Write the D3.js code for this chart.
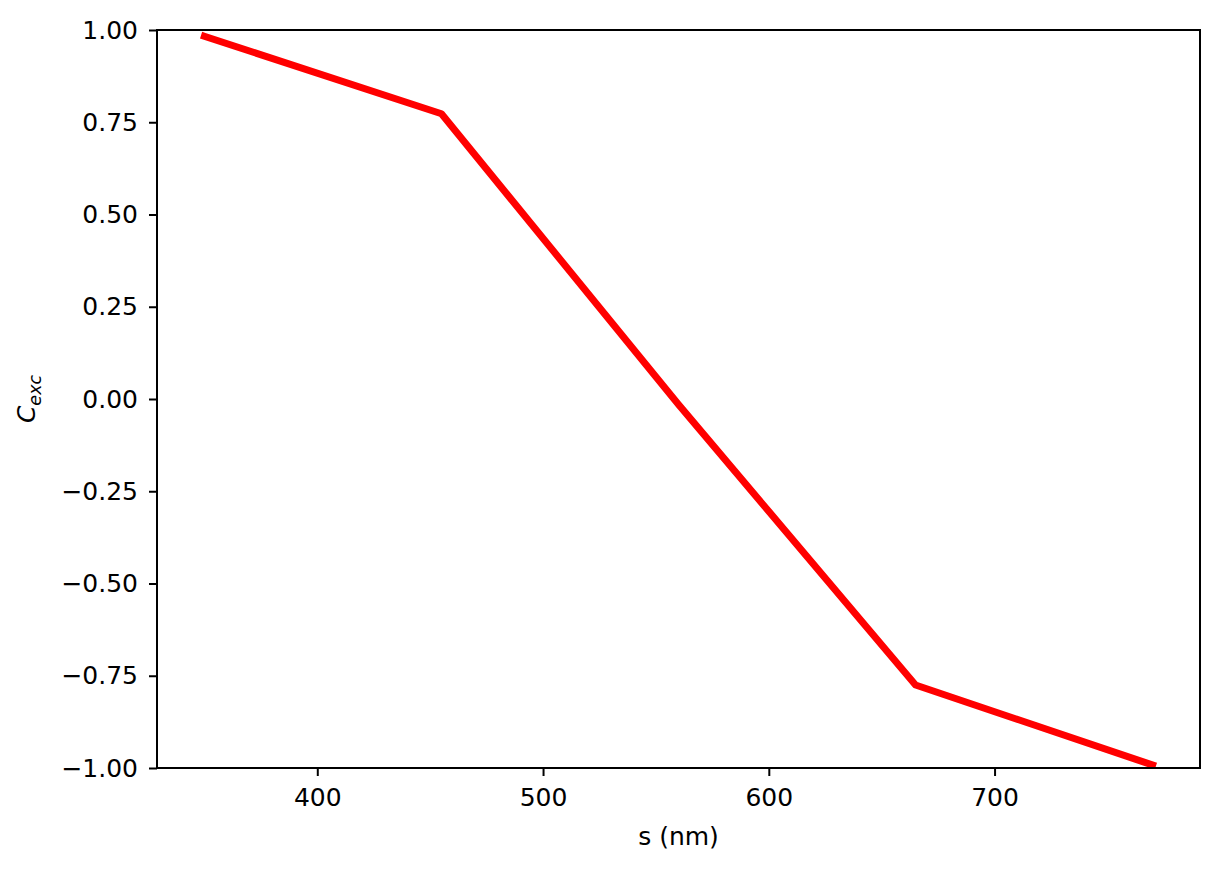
<!DOCTYPE html>
<html>
<head>
<meta charset="utf-8">
<script src="https://cdn.jsdelivr.net/npm/d3@7"></script>
<style>
  body { margin: 0; background: #fff; }
  text { font-family: "DejaVu Sans", sans-serif; }
</style>
</head>
<body>
<div id="chart"></div>
<script>
// wavelength (nm) and excitation coefficient
var wavelengths = [350, 455, 560, 665, 770];
var cexc = [0.983, 0.773, -0.015, -0.775, -0.992];
var xTicks = [400, 500, 600, 700];
var yTicks = [-1.00, -0.75, -0.50, -0.25, 0.00, 0.25, 0.50, 0.75, 1.00];

var W = 1219, H = 871;
var margin = {top: 30, right: 19, bottom: 103, left: 157},
    width = W - margin.left - margin.right,
    height = H - margin.top - margin.bottom;

var svg = d3.select("#chart")
  .append("svg")
    .attr("width", W)
    .attr("height", H)
  .append("g")
    .attr("transform", "translate(" + margin.left + "," + margin.top + ")");

// matplotlib style 5% margin on x
var pad = (770 - 350) * 0.05;
var x = d3.scaleLinear()
  .domain([350 - pad, 770 + pad])
  .range([0, width]);

var y = d3.scaleLinear()
  .domain([-1, 1])
  .range([height, 0]);

var line = d3.line()
  .x(function(d, i) { return x(wavelengths[i]); })
  .y(function(d) { return y(d); });

svg.append("defs").append("clipPath").attr("id", "clip")
  .append("rect").attr("width", width).attr("height", height);

svg.append("path")
  .datum(cexc)
  .attr("clip-path", "url(#clip)")
  .attr("fill", "none")
  .attr("stroke", "#ff0000")
  .attr("stroke-width", 7)
  .attr("stroke-linecap", "square")
  .attr("stroke-linejoin", "round")
  .attr("d", line);

var xAxis = svg.append("g")
  .attr("transform", "translate(0," + height + ")")
  .call(d3.axisBottom(x).tickValues(xTicks).tickSize(8).tickPadding(12));

var yAxis = svg.append("g")
  .call(d3.axisLeft(y).tickValues(yTicks).tickSize(8).tickPadding(11)
    .tickFormat(function(d) { return d3.format(".2f")(d).replace("-", "\u2212"); }));

[xAxis, yAxis].forEach(function(a) {
  a.select(".domain").remove();
  a.selectAll(".tick line").attr("stroke", "#000").attr("stroke-width", 2);
  a.selectAll(".tick text").attr("font-size", 25).attr("fill", "#000")
    .attr("font-family", "DejaVu Sans, sans-serif");
});

// frame
svg.append("rect")
  .attr("width", width)
  .attr("height", height)
  .attr("fill", "none")
  .attr("stroke", "#000")
  .attr("stroke-width", 2);

// axis labels
svg.append("text")
  .attr("x", width / 2)
  .attr("y", height + 77)
  .attr("text-anchor", "middle")
  .attr("font-size", 25)
  .text("s (nm)");

var yl = svg.append("text")
  .attr("transform", "translate(" + (-122) + "," + (height / 2) + ") rotate(-90)")
  .attr("text-anchor", "middle")
  .attr("font-size", 25);
yl.append("tspan").attr("font-style", "italic").text("C");
yl.append("tspan").attr("font-style", "italic").attr("font-size", 17.5)
  .attr("dy", 6).text("exc");
</script>
</body>
</html>
